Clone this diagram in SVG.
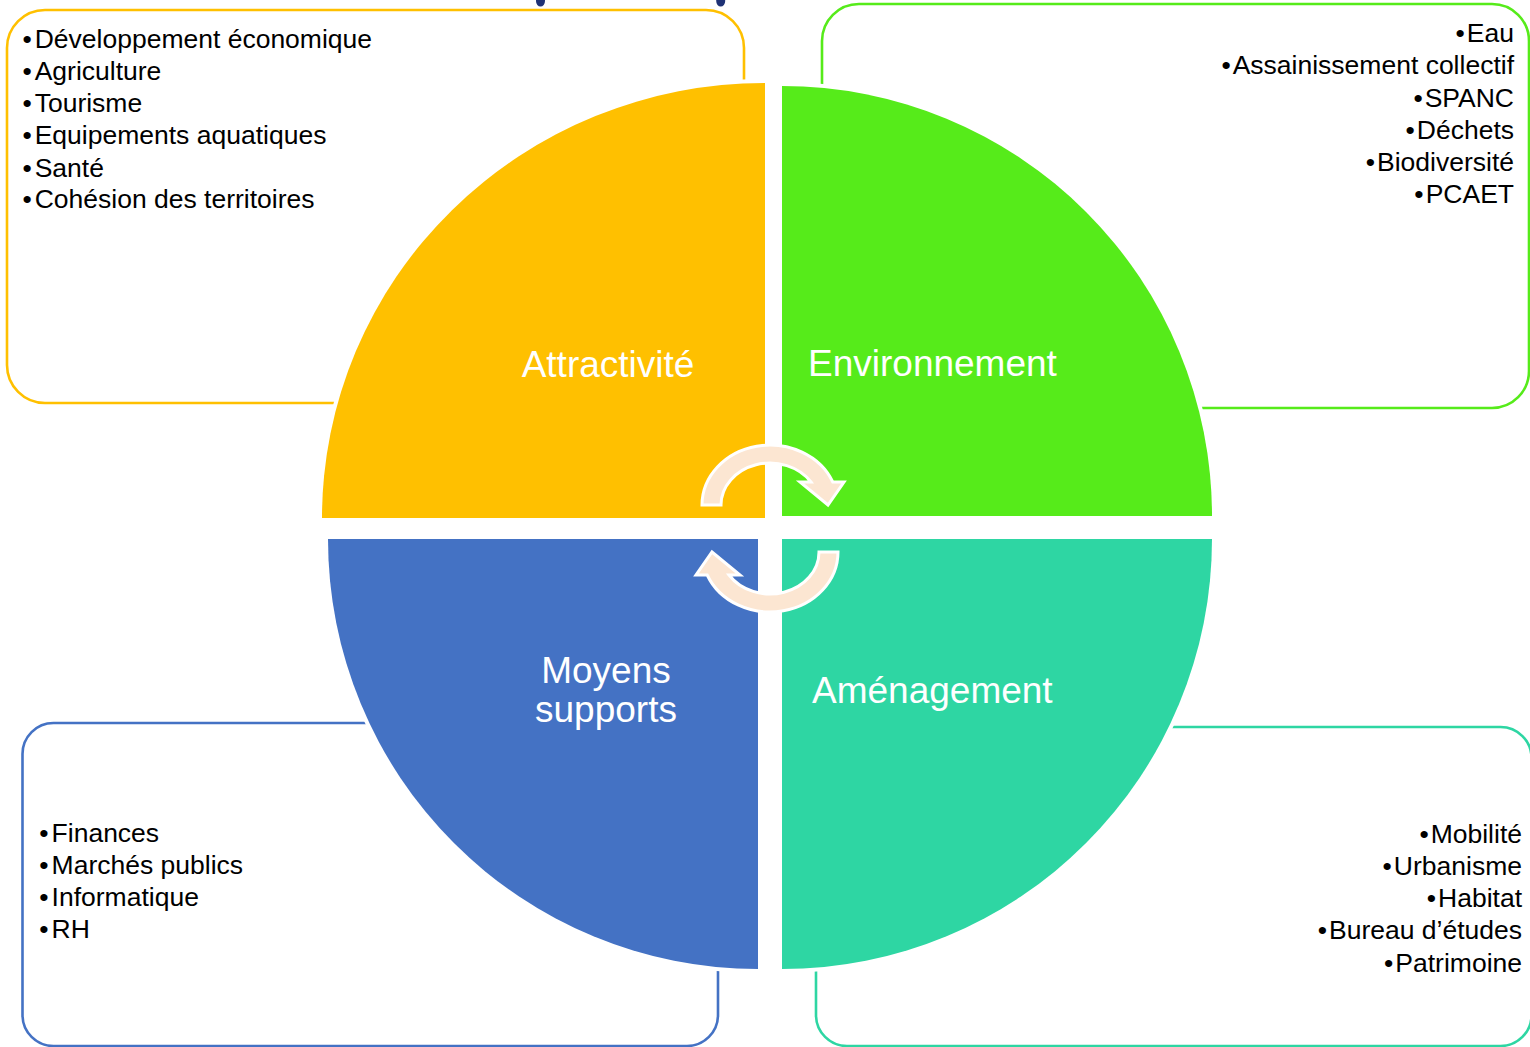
<svg xmlns="http://www.w3.org/2000/svg" width="1530" height="1047" viewBox="0 0 1530 1047">
<style>
.box{fill:none;stroke-width:2.6}
.q{stroke:#fff;stroke-width:8;paint-order:stroke}
.lbl{font-family:"Liberation Sans",Arial,sans-serif;font-size:37px;fill:#fff}
.li{font-family:"Liberation Sans",Arial,sans-serif;font-size:26.5px;fill:#000}
.arr{fill:#FCE6D2;stroke:#fff;stroke-width:3;stroke-linejoin:miter}
</style>
<rect width="1530" height="1047" fill="#fff"/>
<g id="top-marks" fill="#1F3275">
<ellipse cx="540.5" cy="1" rx="4.5" ry="5.5"/>
<ellipse cx="720.7" cy="1" rx="4.5" ry="5.5"/>
</g>
<g id="box-attractivite">
<rect class="box" x="7" y="10" width="737" height="393" rx="38" stroke="#FFC000"/>
</g>
<g id="box-environnement">
<rect class="box" x="822" y="4" width="707" height="404" rx="37" stroke="#56EB1A"/>
</g>
<g id="box-moyens">
<rect class="box" x="22.5" y="723" width="695.5" height="323" rx="31" stroke="#4472C4"/>
</g>
<g id="box-amenagement">
<rect class="box" x="816" y="727" width="715.5" height="319" rx="31" stroke="#2ED6A3"/>
</g>
<g id="q-attractivite">
<path class="q" fill="#FFC000" d="M765 518 L322 518 A443 435 0 0 1 765 83 Z"/>
<text class="lbl" x="608" y="377" text-anchor="middle">Attractivité</text>
</g>
<g id="q-environnement">
<path class="q" fill="#56EB1A" d="M782 516 L782 86 A430 430 0 0 1 1212 516 Z"/>
<text class="lbl" x="808" y="376">Environnement</text>
</g>
<g id="q-moyens">
<path class="q" fill="#4472C4" d="M758 539 L758 969 A430 430 0 0 1 328 539 Z"/>
<text class="lbl" x="606" y="683" text-anchor="middle">Moyens</text>
<text class="lbl" x="606" y="722" text-anchor="middle">supports</text>
</g>
<g id="q-amenagement">
<path class="q" fill="#2ED6A3" d="M782 539 L1212 539 A430 430 0 0 1 782 969 Z"/>
<text class="lbl" x="812" y="703">Aménagement</text>
</g>
<g id="connectors">
<path class="arr" d="M702 505 A68 60 0 0 1 832.8 482 L844 482 L828 505 L800 482 L811 482 A49 42 0 0 0 721 505 Z"/>
<path class="arr" transform="rotate(180 770 528.5)" d="M702 505 A68 60 0 0 1 832.8 482 L844 482 L828 505 L800 482 L811 482 A49 42 0 0 0 721 505 Z"/>
</g>
<g id="list-attractivite">
<text class="li" x="22.4" y="48">•<tspan dx="3">Développement économique</tspan></text>
<text class="li" x="22.4" y="80">•<tspan dx="3">Agriculture</tspan></text>
<text class="li" x="22.4" y="112">•<tspan dx="3">Tourisme</tspan></text>
<text class="li" x="22.4" y="144">•<tspan dx="3">Equipements aquatiques</tspan></text>
<text class="li" x="22.4" y="177">•<tspan dx="3">Santé</tspan></text>
<text class="li" x="22.4" y="208">•<tspan dx="3">Cohésion des territoires</tspan></text>
</g>
<g id="list-environnement">
<text class="li" x="1514" y="42" text-anchor="end">•<tspan dx="2">Eau</tspan></text>
<text class="li" x="1514" y="74" text-anchor="end">•<tspan dx="2">Assainissement collectif</tspan></text>
<text class="li" x="1514" y="107" text-anchor="end">•<tspan dx="2">SPANC</tspan></text>
<text class="li" x="1514" y="139" text-anchor="end">•<tspan dx="2">Déchets</tspan></text>
<text class="li" x="1514" y="171" text-anchor="end">•<tspan dx="2">Biodiversité</tspan></text>
<text class="li" x="1514" y="203" text-anchor="end">•<tspan dx="2">PCAET</tspan></text>
</g>
<g id="list-moyens">
<text class="li" x="39.3" y="842">•<tspan dx="3">Finances</tspan></text>
<text class="li" x="39.3" y="874">•<tspan dx="3">Marchés publics</tspan></text>
<text class="li" x="39.3" y="906">•<tspan dx="3">Informatique</tspan></text>
<text class="li" x="39.3" y="938">•<tspan dx="3">RH</tspan></text>
</g>
<g id="list-amenagement">
<text class="li" x="1522" y="843" text-anchor="end">•<tspan dx="2">Mobilité</tspan></text>
<text class="li" x="1522" y="875" text-anchor="end">•<tspan dx="2">Urbanisme</tspan></text>
<text class="li" x="1522" y="907" text-anchor="end">•<tspan dx="2">Habitat</tspan></text>
<text class="li" x="1522" y="939" text-anchor="end">•<tspan dx="2">Bureau d’études</tspan></text>
<text class="li" x="1522" y="972" text-anchor="end">•<tspan dx="2">Patrimoine</tspan></text>
</g>
</svg>
